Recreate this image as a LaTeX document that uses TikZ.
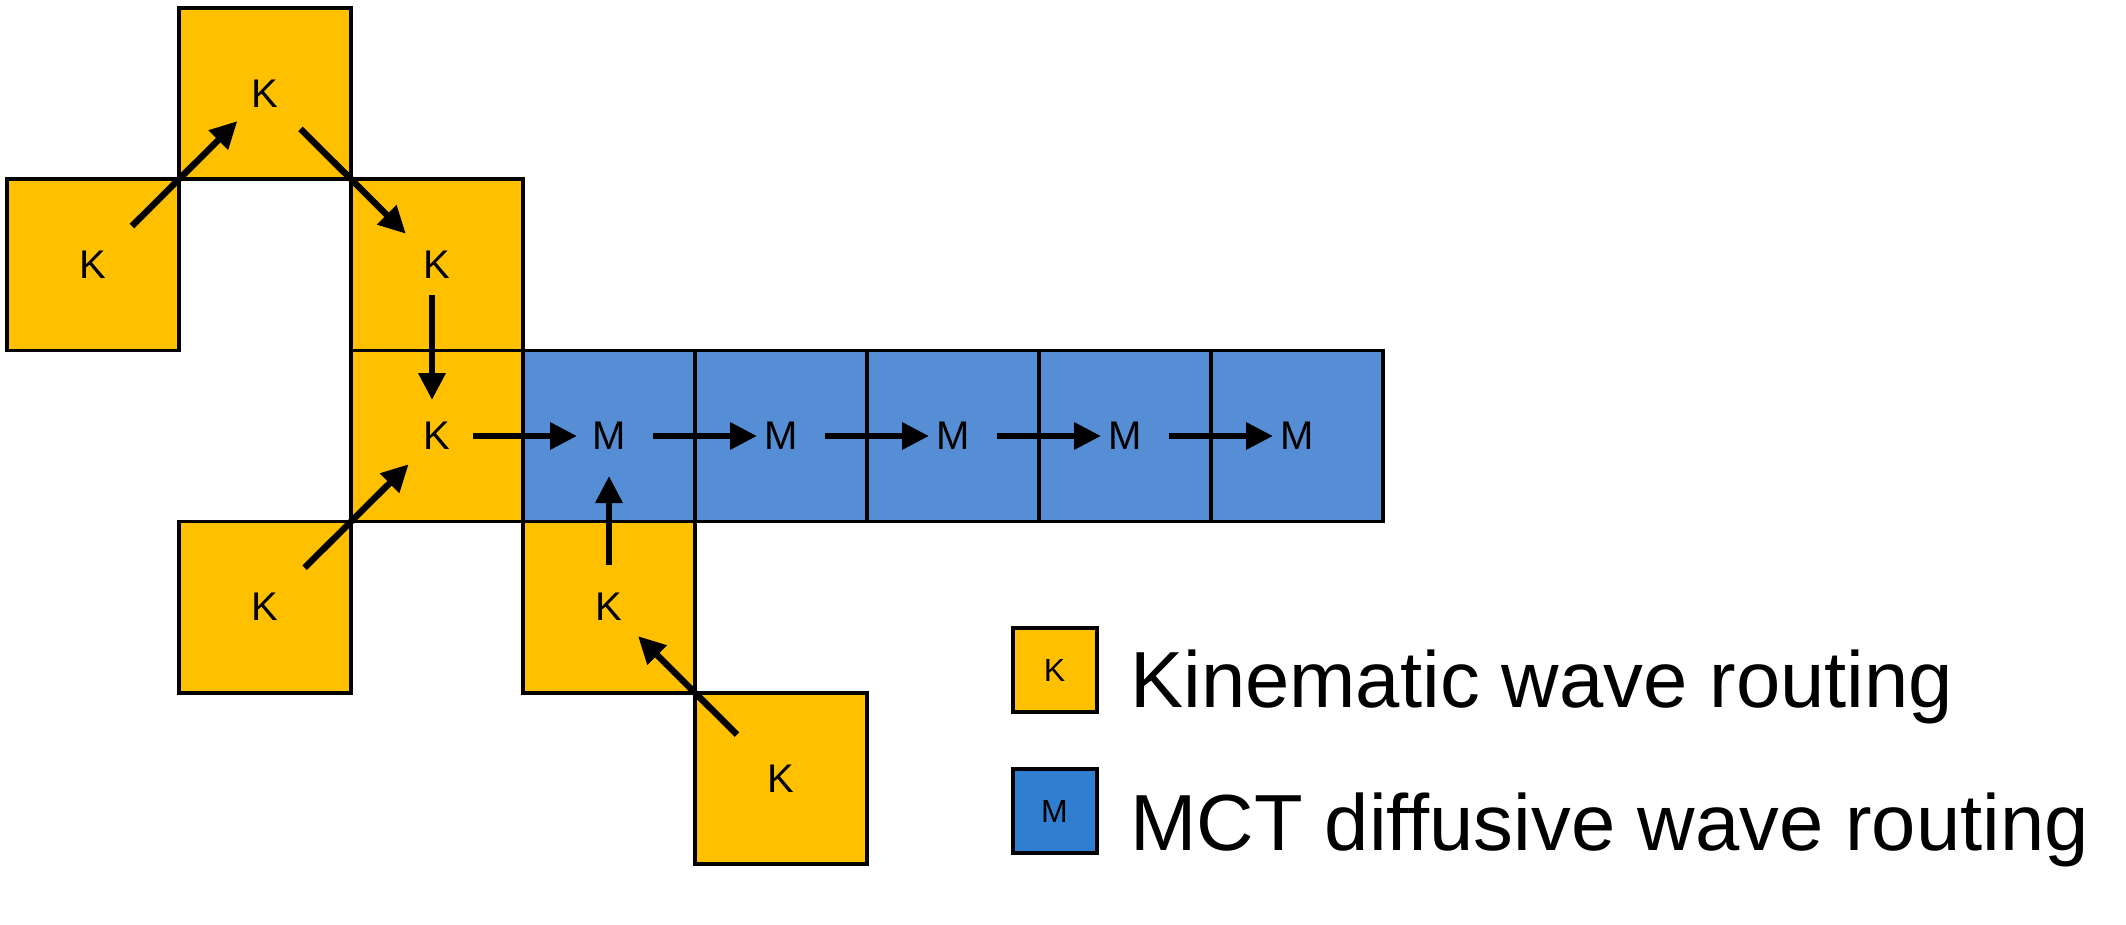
\documentclass[tikz,border=0pt]{standalone}
\usepackage{fontspec}
\setmainfont{Liberation Sans}
\usetikzlibrary{arrows.meta}
\definecolor{kyellow}{HTML}{FFC000}
\definecolor{mblue}{HTML}{558ED5}
\definecolor{lblue}{HTML}{2F7ED0}
\begin{document}
\begin{tikzpicture}[x=0.5pt,y=-0.5pt,
  cellbase/.style={draw=black, line width=1.7pt, minimum width=86pt, minimum height=85.6pt, inner sep=0pt, outer sep=0pt, font=\fontsize{20pt}{24pt}\selectfont},
  kcell/.style={cellbase, fill=kyellow},
  mcell/.style={cellbase, fill=mblue},
  flow/.style={line width=3.2pt, -{Triangle[length=13.5pt,width=13pt]}},
  legbox/.style={draw=black, line width=2pt, minimum size=42pt, inner sep=0pt, font=\fontsize{16pt}{19pt}\selectfont},
  legtext/.style={anchor=base west, inner sep=0pt, font=\fontsize{39.8pt}{48pt}\selectfont}]
\useasboundingbox (0,0) rectangle (2126,925);
% cells
\node[kcell] (k10) at (265,93.6) {K};
\node[kcell] (k01) at (93,264.8) {K};
\node[kcell] (k21) at (437,264.8) {K};
\node[kcell] (k22) at (437,436.0) {K};
\node[mcell] (m3) at (609,436.0) {M};
\node[mcell] (m4) at (781,436.0) {M};
\node[mcell] (m5) at (953,436.0) {M};
\node[mcell] (m6) at (1125,436.0) {M};
\node[mcell] (m7) at (1297,436.0) {M};
\node[kcell] (k13) at (265,607.2) {K};
\node[kcell] (k33) at (609,607.2) {K};
\node[kcell] (k44) at (781,778.4) {K};
% flow arrows
\draw[flow, shorten <=27.5pt, shorten >=19.5pt] (k01.center) -- (k10.center);
\draw[flow, shorten <=25pt, shorten >=22pt] (k10.center) -- (k21.center);
\draw[flow, shorten <=15pt, shorten >=18pt] ([xshift=-2.5pt]k21.center) -- ([xshift=-2.5pt]k22.center);
\draw[flow, shorten <=18pt, shorten >=16pt] (k22.center) -- (m3.center);
\draw[flow, shorten <=22pt, shorten >=12pt] (m3.center) -- (m4.center);
\draw[flow, shorten <=22pt, shorten >=12pt] (m4.center) -- (m5.center);
\draw[flow, shorten <=22pt, shorten >=12pt] (m5.center) -- (m6.center);
\draw[flow, shorten <=22pt, shorten >=12pt] (m6.center) -- (m7.center);
\draw[flow, shorten <=21pt, shorten >=20pt] (k33.center) -- (m3.center);
\draw[flow, shorten <=28pt, shorten >=20pt] (k13.center) -- (k22.center);
\draw[flow, shorten <=31pt, shorten >=20.5pt] (k44.center) -- (k33.center);
% legend
\node[legbox, fill=kyellow] (lk) at (1054.5,670) {K};
\node[legbox, fill=lblue] (lm) at (1054.5,811) {M};
\node[legtext] (tk) at (1130,707) {Kinematic wave routing};
\node[legtext] (tm) at (1130,850) {MCT diffusive wave routing};
\end{tikzpicture}
\end{document}
